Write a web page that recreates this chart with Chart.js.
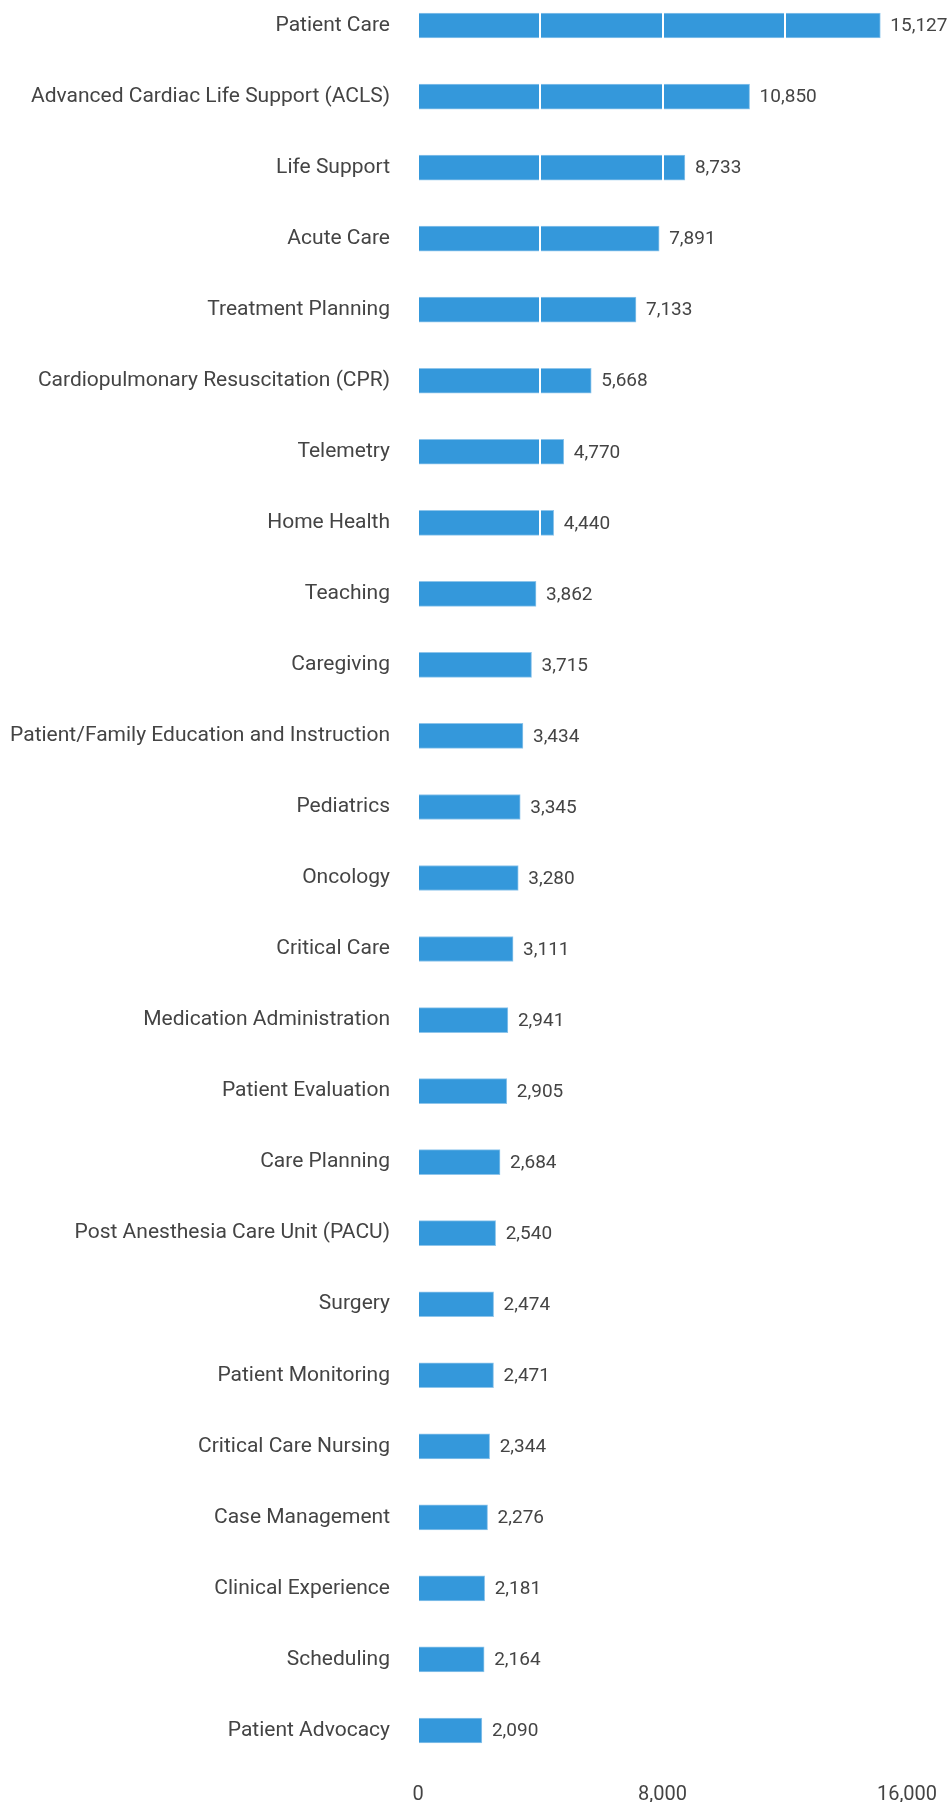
<!DOCTYPE html>
<html>
<head>
<meta charset="utf-8">
<script src="https://cdn.jsdelivr.net/npm/chart.js@4"></script>
<style>
  html, body { margin: 0; padding: 0; background: #fff; overflow: hidden; }
  #myChart { display: block; margin-top: -10px; }
</style>
</head>
<body>
<canvas id="myChart" width="949" height="1834"></canvas>
<script>
// dados
var skills = ['Patient Care', 'Advanced Cardiac Life Support (ACLS)', 'Life Support', 'Acute Care',
  'Treatment Planning', 'Cardiopulmonary Resuscitation (CPR)', 'Telemetry', 'Home Health', 'Teaching',
  'Caregiving', 'Patient/Family Education and Instruction', 'Pediatrics', 'Oncology', 'Critical Care',
  'Medication Administration', 'Patient Evaluation', 'Care Planning', 'Post Anesthesia Care Unit (PACU)',
  'Surgery', 'Patient Monitoring', 'Critical Care Nursing', 'Case Management', 'Clinical Experience',
  'Scheduling', 'Patient Advocacy'];
var counts = [15127, 10850, 8733, 7891, 7133, 5668, 4770, 4440, 3862, 3715, 3434, 3345, 3280, 3111,
  2941, 2905, 2684, 2540, 2474, 2471, 2344, 2276, 2181, 2164, 2090];
var xTicks = [0, 8000, 16000];

var fmt = function (v) { return Number(v).toLocaleString('en-US'); };

// labels at the end of each bar
var valueLabels = {
  id: 'valueLabels',
  afterDraw: function (chart) {
    var ctx = chart.ctx;
    var meta = chart.getDatasetMeta(0);
    ctx.save();
    ctx.font = '19px Roboto';
    ctx.fillStyle = '#444';
    ctx.textAlign = 'left';
    ctx.textBaseline = 'middle';
    meta.data.forEach(function (bar, i) {
      ctx.fillText(fmt(counts[i]), bar.x + 10, bar.y + 1);
    });
    ctx.restore();
  }
};

var ctx = document.getElementById('myChart').getContext('2d');
var myChart = new Chart(ctx, {
  type: 'bar',
  data: {
    labels: skills,
    datasets: [{
      data: counts,
      backgroundColor: '#3498db',
      borderColor: '#8ec5eb',
      borderWidth: 1,
      barThickness: 25
    }]
  },
  options: {
    indexAxis: 'y',
    responsive: false,
    animation: false,
    layout: { padding: { right: 42, top: 0, bottom: 0 } },
    plugins: {
      legend: { display: false },
      tooltip: { enabled: false }
    },
    scales: {
      x: {
        min: 0,
        max: 16000,
        border: { display: false },
        afterFit: function (scale) { scale.paddingLeft = 0; scale.paddingRight = 0; },
        grid: {
          z: 1,
          drawTicks: false,
          lineWidth: 2,
          color: function (c) {
            return c.tick && c.tick.value === 0 ? 'rgba(0,0,0,0)' : '#ffffff';
          }
        },
        ticks: {
          stepSize: 4000,
          autoSkip: false,
          maxRotation: 0,
          padding: 17,
          color: '#444',
          font: { family: 'Roboto', size: 20 },
          callback: function (v) { return xTicks.indexOf(v) >= 0 ? fmt(v) : ''; }
        }
      },
      y: {
        border: { display: false },
        grid: { display: false, drawTicks: false },
        afterFit: function (scale) {
          scale.width = 418;
          scale.paddingTop = 0;
          scale.paddingBottom = 0;
        },
        ticks: {
          padding: 28,
          autoSkip: false,
          color: '#444',
          font: { family: 'Roboto', size: 21 }
        }
      }
    }
  },
  plugins: [valueLabels]
});
</script>
</body>
</html>
